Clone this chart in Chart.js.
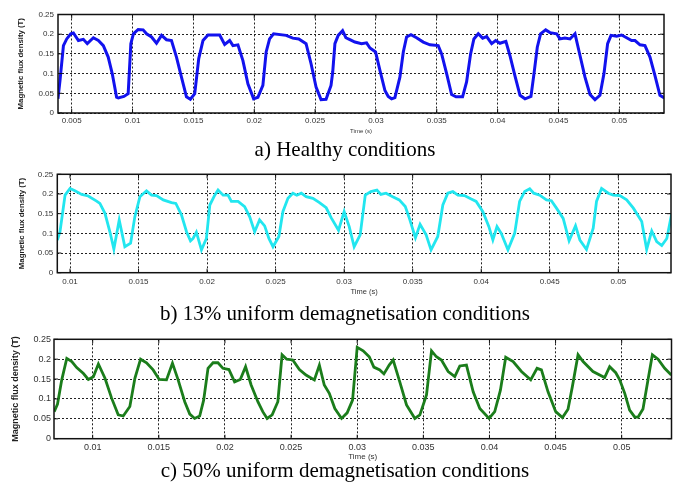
<!DOCTYPE html>
<html lang="en">
<head>
  <meta charset="UTF-8">
  <title>Magnetic flux density</title>
  <script src="https://cdn.jsdelivr.net/npm/chart.js"></script>
  <style>
    body { margin: 0; background: #fff; }
    #page { position: relative; width: 673px; height: 487px; overflow: hidden; }
    #page canvas { position: absolute; left: 0; }
    .caption {
      position: absolute; left: 0; width: 690px; text-align: center;
      font-family: "Liberation Serif", "Times New Roman", serif; font-size: 21px;
      line-height: 21px; color: #000; white-space: nowrap;
    }
  </style>
</head>
<body>
  <div id="page">
    <canvas id="chartA" width="673" height="138" style="top:0px"></canvas>
    <div class="caption" style="top:139px">a) Healthy conditions</div>
    <canvas id="chartB" width="673" height="138" style="top:160px"></canvas>
    <div class="caption" style="top:303px">b) 13% uniform demagnetisation conditions</div>
    <canvas id="chartC" width="673" height="137" style="top:325px"></canvas>
    <div class="caption" style="top:460px">c) 50% uniform demagnetisation conditions</div>
  </div>

  <script>
    // tick labels
    const yTicks = [0, 0.05, 0.1, 0.15, 0.2, 0.25];
    const xTicksA = [0.005, 0.01, 0.015, 0.02, 0.025, 0.03, 0.035, 0.04, 0.045, 0.05];
    const xTicksBC = [0.01, 0.015, 0.02, 0.025, 0.03, 0.035, 0.04, 0.045, 0.05];

    // a) healthy
    const timeA = [0.00387,0.00404,0.00432,0.00459,0.00492,0.00514,0.00555,0.00596,0.00628,0.00678,
      0.00719,0.0076,0.008,0.00833,0.00869,0.00883,0.00929,0.00964,0.00986,0.01007,
      0.01046,0.01087,0.01115,0.01156,0.01197,0.01238,0.01279,0.0132,0.01361,0.01402,
      0.01443,0.01475,0.01511,0.01544,0.01579,0.0162,0.01716,0.01757,0.01798,0.01825,
      0.01866,0.01907,0.01948,0.01995,0.0203,0.02071,0.02098,0.02126,0.02159,0.02262,
      0.02317,0.02366,0.02426,0.02467,0.02508,0.02549,0.0259,0.02631,0.02645,0.02663,
      0.0269,0.02726,0.02753,0.02786,0.02827,0.02882,0.02923,0.02951,0.02997,0.03033,
      0.03074,0.03101,0.03129,0.03156,0.03197,0.03225,0.03252,0.03288,0.03334,0.03389,
      0.03444,0.03512,0.0354,0.03581,0.03622,0.03658,0.03712,0.03745,0.03778,0.03805,
      0.03841,0.03877,0.0391,0.03951,0.03984,0.04019,0.04068,0.04101,0.04142,0.04184,
      0.04225,0.04274,0.04299,0.04326,0.04353,0.04395,0.0443,0.04485,0.04512,0.04553,
      0.04595,0.04636,0.04677,0.04718,0.04759,0.048,0.04841,0.04874,0.04904,0.04932,
      0.04978,0.05019,0.0506,0.05101,0.05129,0.0517,0.05211,0.05252,0.05293,0.05334,
      0.0537];
    const fluxA = [0.036,0.083,0.171,0.188,0.201,0.203,0.184,0.187,0.176,0.191,
      0.184,0.171,0.142,0.100,0.040,0.038,0.042,0.049,0.176,0.201,
      0.212,0.211,0.201,0.193,0.177,0.197,0.186,0.184,0.142,0.091,
      0.041,0.035,0.049,0.138,0.184,0.198,0.198,0.174,0.184,0.171,
      0.173,0.133,0.074,0.036,0.040,0.070,0.155,0.188,0.201,0.197,
      0.190,0.188,0.176,0.125,0.066,0.034,0.035,0.070,0.104,0.176,
      0.197,0.209,0.191,0.186,0.180,0.176,0.178,0.165,0.155,0.108,
      0.057,0.042,0.036,0.039,0.091,0.155,0.193,0.199,0.191,0.180,
      0.173,0.171,0.150,0.100,0.047,0.041,0.041,0.079,0.150,0.188,
      0.201,0.190,0.194,0.176,0.184,0.177,0.182,0.146,0.095,0.045,
      0.036,0.042,0.100,0.167,0.201,0.211,0.204,0.201,0.188,0.190,
      0.188,0.201,0.146,0.091,0.047,0.034,0.045,0.100,0.176,0.197,
      0.195,0.198,0.191,0.184,0.184,0.173,0.171,0.142,0.095,0.045,
      0.038];

    // b) 13% demagnetisation
    const timeB = [0.00908,0.00927,0.00964,0.01,0.01036,0.01085,0.01133,0.01194,0.01218,0.01255,
      0.01291,0.0132,0.01359,0.014,0.01442,0.01473,0.0151,0.01558,0.01595,0.01631,
      0.0168,0.0174,0.01772,0.01813,0.0185,0.01879,0.01898,0.01922,0.01959,0.01995,
      0.0202,0.02056,0.0208,0.02117,0.02153,0.02177,0.02226,0.02274,0.02311,0.02347,
      0.02383,0.0242,0.02451,0.02481,0.02524,0.02553,0.0259,0.02626,0.02655,0.02687,
      0.02723,0.02772,0.0282,0.02869,0.02905,0.02959,0.03,0.03037,0.03073,0.03117,
      0.03154,0.03195,0.03239,0.03268,0.03305,0.03354,0.03402,0.03446,0.03476,0.0352,
      0.03554,0.03598,0.03634,0.03683,0.0372,0.03756,0.03793,0.0383,0.03878,0.03927,
      0.03963,0.04012,0.04056,0.04085,0.04115,0.04146,0.04195,0.04244,0.0428,0.04317,
      0.04354,0.04383,0.04427,0.04476,0.04512,0.04549,0.04598,0.04641,0.04688,0.0472,
      0.04768,0.04817,0.04841,0.04878,0.04927,0.04963,0.05012,0.05061,0.0511,0.05171,
      0.05207,0.05244,0.0528,0.05317,0.05354,0.0539];
    const fluxB = [0.083,0.104,0.197,0.214,0.208,0.199,0.195,0.182,0.176,0.151,
      0.104,0.060,0.134,0.066,0.075,0.142,0.193,0.208,0.197,0.196,
      0.185,0.178,0.176,0.147,0.104,0.081,0.087,0.103,0.058,0.087,
      0.172,0.197,0.210,0.197,0.197,0.181,0.181,0.168,0.142,0.104,
      0.134,0.119,0.087,0.066,0.092,0.155,0.189,0.202,0.197,0.202,
      0.193,0.189,0.178,0.165,0.140,0.108,0.155,0.117,0.066,0.096,
      0.197,0.206,0.210,0.199,0.202,0.193,0.185,0.168,0.138,0.089,
      0.123,0.096,0.058,0.092,0.172,0.202,0.206,0.197,0.196,0.187,
      0.181,0.155,0.117,0.083,0.117,0.100,0.058,0.100,0.181,0.206,
      0.213,0.202,0.197,0.185,0.183,0.164,0.138,0.081,0.119,0.083,
      0.059,0.113,0.181,0.214,0.202,0.197,0.196,0.185,0.164,0.130,
      0.059,0.106,0.079,0.069,0.087,0.151];

    // c) 50% demagnetisation
    const timeC = [0.00709,0.00734,0.00766,0.00804,0.00842,0.00879,0.0093,0.00967,0.01005,0.01043,
      0.01093,0.01143,0.01193,0.01231,0.01281,0.01319,0.01362,0.01407,0.01457,0.01503,
      0.01558,0.01603,0.01646,0.01696,0.01734,0.01771,0.01809,0.01839,0.01872,0.0191,
      0.01947,0.01985,0.0203,0.02073,0.02116,0.02156,0.02198,0.02249,0.02286,0.02319,
      0.02357,0.024,0.02432,0.02467,0.02513,0.02563,0.02613,0.02676,0.02714,0.02751,
      0.02789,0.02831,0.02882,0.02924,0.02965,0.03,0.03045,0.03091,0.03126,0.03171,
      0.03202,0.03242,0.03272,0.03322,0.03373,0.03436,0.03474,0.03524,0.03562,0.03599,
      0.03637,0.03688,0.03738,0.03776,0.03826,0.03877,0.03927,0.03997,0.0404,0.04083,
      0.04123,0.04179,0.04242,0.04312,0.0436,0.04393,0.04443,0.04501,0.04552,0.04594,
      0.04627,0.0467,0.04708,0.04783,0.04871,0.04909,0.04955,0.04985,0.05023,0.0506,
      0.05098,0.05123,0.05161,0.05199,0.05232,0.05275,0.05325,0.05375];
    const fluxC = [0.068,0.087,0.148,0.202,0.194,0.179,0.164,0.149,0.156,0.188,
      0.152,0.102,0.060,0.057,0.081,0.152,0.200,0.191,0.173,0.149,
      0.148,0.190,0.148,0.093,0.062,0.051,0.057,0.097,0.177,0.191,
      0.191,0.177,0.174,0.143,0.149,0.181,0.135,0.093,0.068,0.051,
      0.060,0.093,0.211,0.200,0.198,0.174,0.160,0.148,0.185,0.135,
      0.114,0.076,0.051,0.065,0.097,0.230,0.221,0.206,0.180,0.173,
      0.163,0.185,0.198,0.143,0.085,0.051,0.060,0.110,0.221,0.206,
      0.198,0.169,0.156,0.183,0.185,0.118,0.076,0.051,0.068,0.122,
      0.205,0.194,0.169,0.148,0.177,0.173,0.118,0.068,0.053,0.074,
      0.131,0.211,0.194,0.169,0.154,0.181,0.166,0.148,0.114,0.072,
      0.055,0.054,0.075,0.148,0.211,0.200,0.177,0.160];

    const sans = '"Liberation Sans", Arial, sans-serif';

    // MATLAB style frame with small inward ticks
    const boxPlugin = {
      id: 'box',
      afterDraw(chart) {
        const { ctx, chartArea: a, scales: { x, y } } = chart;
        ctx.save();
        ctx.strokeStyle = '#111';
        ctx.lineWidth = 1;
        ctx.beginPath();
        x.ticks.forEach(t => {
          const px = x.getPixelForValue(t.value);
          ctx.moveTo(px, a.bottom); ctx.lineTo(px, a.bottom - 4);
          ctx.moveTo(px, a.top); ctx.lineTo(px, a.top + 4);
        });
        y.ticks.forEach(t => {
          const py = y.getPixelForValue(t.value);
          ctx.moveTo(a.left, py); ctx.lineTo(a.left + 4, py);
          ctx.moveTo(a.right, py); ctx.lineTo(a.right - 4, py);
        });
        ctx.stroke();
        ctx.lineWidth = 1.5;
        ctx.strokeRect(a.left, a.top, a.right - a.left, a.bottom - a.top);
        ctx.restore();
      }
    };

    function makePanel(id, times, flux, xTicks, p) {
      return new Chart(document.getElementById(id), {
        type: 'line',
        data: {
          datasets: [{
            data: times.map((t, i) => ({ x: t, y: flux[i] })),
            borderColor: p.color,
            borderWidth: p.lineWidth,
            pointRadius: 0,
            tension: 0,
            fill: false
          }]
        },
        options: {
          responsive: false,
          animation: false,
          layout: { padding: { top: p.padTop, right: p.padRight, left: 0, bottom: 0 } },
          plugins: { legend: { display: false }, tooltip: { enabled: false } },
          scales: {
            x: {
              type: 'linear',
              min: p.xMin,
              max: p.xMax,
              afterBuildTicks: s => { s.ticks = xTicks.map(v => ({ value: v })); },
              afterFit: s => { s.height = p.xAxisH; },
              grid: { color: '#222', lineWidth: 1, drawTicks: false },
              border: { display: false, dash: [2, 2] },
              ticks: {
                autoSkip: false, maxRotation: 0, padding: p.xTickPad, color: '#333',
                font: { family: sans, size: p.tickSize },
                callback: v => String(v)
              },
              title: {
                display: true, text: 'Time (s)', color: '#333',
                font: { family: sans, size: p.xTitleSize },
                padding: { top: 0, bottom: p.xTitlePad }
              }
            },
            y: {
              min: 0,
              max: 0.25,
              afterBuildTicks: s => { s.ticks = yTicks.map(v => ({ value: v })); },
              afterFit: s => { s.width = p.plotLeft; },
              grid: { color: '#222', lineWidth: 1, drawTicks: false },
              border: { display: false, dash: [2, 2] },
              ticks: {
                padding: p.yTickPad, color: '#333',
                font: { family: sans, size: p.tickSize },
                callback: v => String(v)
              },
              title: {
                display: true, text: 'Magnetic flux density (T)', color: '#222',
                font: { family: sans, size: p.yTitleSize, weight: 'bold' },
                padding: { top: p.yTitlePad, bottom: 0 }
              }
            }
          }
        },
        plugins: [boxPlugin]
      });
    }

    makePanel('chartA', timeA, fluxA, xTicksA, {
      color: '#1212ee', lineWidth: 3,
      xMin: 0.003874, xMax: 0.053673,
      plotLeft: 58, padTop: 14.5, padRight: 9, xAxisH: 25,
      tickSize: 8, xTickPad: 3, yTickPad: 4,
      xTitleSize: 6, xTitlePad: 2.7, yTitleSize: 7.8, yTitlePad: 16
    });

    makePanel('chartB', timeB, fluxB, xTicksBC, {
      color: '#22e6ef', lineWidth: 2.8,
      xMin: 0.009073, xMax: 0.053845,
      plotLeft: 57.3, padTop: 14.3, padRight: 2, xAxisH: 25.3,
      tickSize: 8, xTickPad: 4, yTickPad: 4,
      xTitleSize: 7.5, xTitlePad: 1.8, yTitleSize: 7.8, yTitlePad: 17
    });

    makePanel('chartC', timeC, fluxC, xTicksBC, {
      color: '#1b7d1b', lineWidth: 2.8,
      xMin: 0.007074, xMax: 0.053766,
      plotLeft: 54, padTop: 14.3, padRight: 1.5, xAxisH: 23.3,
      tickSize: 9, xTickPad: 3.5, yTickPad: 3,
      xTitleSize: 8, xTitlePad: 0.5, yTitleSize: 9, yTitlePad: 10.3
    });
  </script>
</body>
</html>
